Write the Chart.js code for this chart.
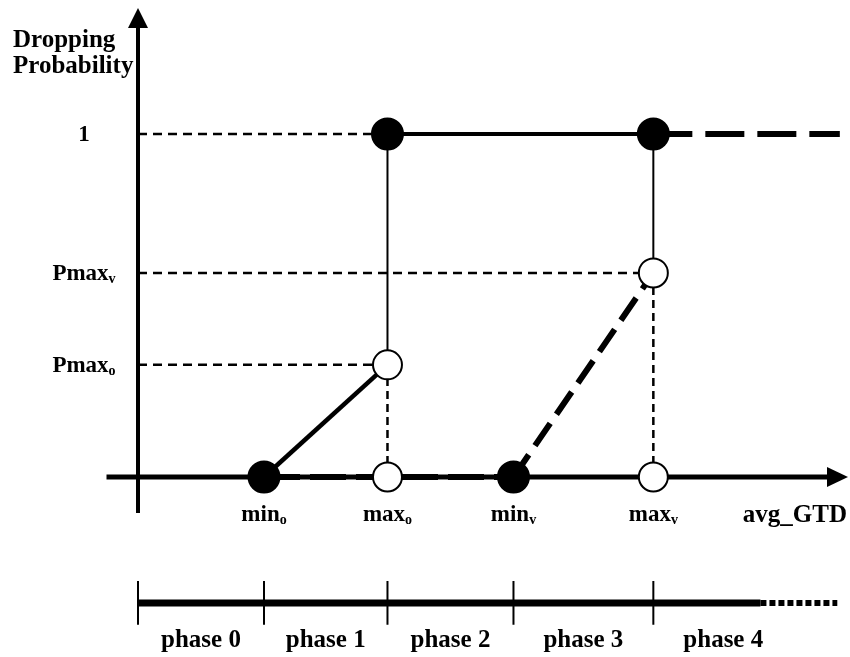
<!DOCTYPE html>
<html><head><meta charset="utf-8">
<script src="https://cdn.jsdelivr.net/npm/chart.js@4.4.0/dist/chart.umd.min.js"></script>
<style>html,body{margin:0;padding:0;background:#fff}#wrap{width:850px;height:657px;position:relative}</style>
</head><body><div id="wrap"><canvas id="c" width="850" height="657"></canvas></div>
<script>
// ---------- data ----------
const thresholdLabels = [['min','o'],['max','o'],['min','v'],['max','v']];
const thresholdX      = [1.00, 1.98, 2.98, 4.09];      // min_o, max_o, min_v, max_v (avg_GTD units)
const probLabels      = [['1',''],['Pmax','v'],['Pmax','o']];
const probLevels      = [1, 0.595, 0.327];              // 1, Pmax_v, Pmax_o
const phaseLabels     = ['phase 0','phase 1','phase 2','phase 3','phase 4'];
const xAxisTitle      = 'avg_GTD';
const yAxisTitle      = ['Dropping','Probability'];
const tailEndX        = 5.57;                            // dashed continuation of p = 1
const phaseSolidEnd   = 4.94;
const phaseDottedEnd  = 5.55;

// ---------- derived ----------
const [minO, maxO, minV, maxV] = thresholdX;
const [P1, PmaxV, PmaxO] = probLevels;
const phaseBounds = [0, minO, maxO, minV, maxV];
const PHASE_Y = -0.367, PHASE_TICK = 0.064;
const FONT = '"Liberation Serif","Times New Roman",serif';

function seg(pts, style, order) {
  return Object.assign({
    type: 'scatter', data: pts.map(([x, y]) => ({x, y})), showLine: true,
    pointRadius: 0, pointHoverRadius: 0, fill: false, borderColor: '#000',
    backgroundColor: '#000', clip: false, order: order, tension: 0, borderCapStyle: 'butt'
  }, style);
}
const thinDash = {borderWidth: 2.5, borderDash: [9, 6]};
const vDash = {borderWidth: 2.5, borderDash: [8, 5]};

const datasets = [
  // points on top
  {type:'scatter', data:[{x:minO,y:0},{x:minV,y:0},{x:maxO,y:P1},{x:maxV,y:P1}], pointRadius:15.5,
   pointHoverRadius:15.5, pointBackgroundColor:'#000', pointBorderColor:'#000', pointBorderWidth:2, showLine:false, clip:false, order:0},
  {type:'scatter', data:[{x:maxO,y:0},{x:maxO,y:PmaxO},{x:maxV,y:0},{x:maxV,y:PmaxV}], pointRadius:14.5,
   pointHoverRadius:14.5, pointBackgroundColor:'#fff', pointBorderColor:'#000', pointBorderWidth:2, showLine:false, clip:false, order:0},
  // curves
  seg([[minO,0],[maxO,PmaxO]], {borderWidth:4.5}, 1),
  seg([[minV,0],[maxV,PmaxV]], {borderWidth:6, borderDash:[27,11]}, 1),
  seg([[maxO,P1],[maxV,P1]], {borderWidth:4}, 1),
  seg([[maxV,P1],[tailEndX,P1]], {borderWidth:6, borderDash:[39,13]}, 1),
  seg([[minO,0],[minV,0]], {borderWidth:6, borderDash:[36,10]}, 1),
  seg([[maxO,PmaxO],[maxO,P1]], {borderWidth:2}, 1),
  seg([[maxV,PmaxV],[maxV,P1]], {borderWidth:2}, 1),
  seg([[maxO,0],[maxO,PmaxO]], vDash, 2),
  seg([[maxV,0],[maxV,PmaxV]], vDash, 2),
  // guides from y axis
  seg([[0,P1],[maxO,P1]], thinDash, 2),
  seg([[0,PmaxV],[maxV,PmaxV]], thinDash, 2),
  seg([[0,PmaxO],[maxO,PmaxO]], thinDash, 2),
  // phase bar
  seg([[0,PHASE_Y],[phaseSolidEnd,PHASE_Y]], {borderWidth:7}, 3),
  seg([[phaseSolidEnd,PHASE_Y],[phaseDottedEnd,PHASE_Y]], {borderWidth:6, borderDash:[6,3]}, 3),
  ...phaseBounds.map(b => seg([[b,PHASE_Y+PHASE_TICK],[b,PHASE_Y-PHASE_TICK]], {borderWidth:2}, 3))
];

function subText(ctx, main, sub, x, y, align, size, subSize) {
  ctx.font = 'bold ' + size + 'px ' + FONT;
  const wm = ctx.measureText(main).width;
  ctx.font = 'bold ' + subSize + 'px ' + FONT;
  const ws = sub ? ctx.measureText(sub).width : 0;
  let x0 = x;
  if (align === 'center') x0 = x - (wm + ws) / 2;
  else if (align === 'right') x0 = x - wm - ws;
  ctx.textAlign = 'left'; ctx.textBaseline = 'alphabetic';
  ctx.font = 'bold ' + size + 'px ' + FONT;
  ctx.fillText(main, x0, y);
  if (sub) { ctx.font = 'bold ' + subSize + 'px ' + FONT; ctx.fillText(sub, x0 + wm, y + 3); }
}

const axesPlugin = {
  id: 'axes',
  beforeDatasetsDraw(chart) {
    const ctx = chart.ctx, xs = chart.scales.x, ys = chart.scales.y;
    const ox = xs.getPixelForValue(0), oy = ys.getPixelForValue(0);
    const xL = xs.getPixelForValue(-0.25), xTip = 848;
    const yB = ys.getPixelForValue(-0.105), yTip = 8;
    ctx.save();
    ctx.fillStyle = '#000'; ctx.strokeStyle = '#000';
    ctx.lineWidth = 5;
    ctx.beginPath(); ctx.moveTo(xL, oy); ctx.lineTo(xTip - 16, oy); ctx.stroke();
    ctx.beginPath(); ctx.moveTo(xTip - 21, oy - 10); ctx.lineTo(xTip, oy); ctx.lineTo(xTip - 21, oy + 10); ctx.closePath(); ctx.fill();
    ctx.lineWidth = 4;
    ctx.beginPath(); ctx.moveTo(ox, yB); ctx.lineTo(ox, yTip + 16); ctx.stroke();
    ctx.beginPath(); ctx.moveTo(ox - 10, yTip + 20); ctx.lineTo(ox, yTip); ctx.lineTo(ox + 10, yTip + 20); ctx.closePath(); ctx.fill();
    ctx.restore();
  },
  afterDraw(chart) {
    const ctx = chart.ctx, xs = chart.scales.x, ys = chart.scales.y;
    const ox = xs.getPixelForValue(0), oy = ys.getPixelForValue(0);
    ctx.save();
    ctx.fillStyle = '#000';
    // y title
    ctx.font = 'bold 25px ' + FONT; ctx.textAlign = 'left'; ctx.textBaseline = 'alphabetic';
    ctx.fillText(yAxisTitle[0], 13, 47);
    ctx.fillText(yAxisTitle[1], 13, 73);
    // probability labels
    probLabels.forEach((l, i) => subText(ctx, l[0], l[1], ox - 54, ys.getPixelForValue(probLevels[i]) + 7, 'center', 23, 14));
    // threshold labels
    thresholdLabels.forEach((l, i) => subText(ctx, l[0], l[1], xs.getPixelForValue(thresholdX[i]), oy + 44, 'center', 23, 14));
    // x title
    subText(ctx, xAxisTitle, '', 847, oy + 45, 'right', 25, 14);
    // phase labels
    const bounds = phaseBounds.concat([maxV + (maxV - minV)]);
    const py = ys.getPixelForValue(PHASE_Y) + 44;
    phaseLabels.forEach((t, i) => {
      const cx = (xs.getPixelForValue(bounds[i]) + xs.getPixelForValue(bounds[i + 1])) / 2;
      subText(ctx, t, '', cx, py, 'center', 25, 14);
    });
    ctx.restore();
  }
};

new Chart(document.getElementById('c'), {
  type: 'scatter',
  data: { datasets },
  options: {
    responsive: false, animation: false, events: [],
    layout: { padding: { left: 138, right: 82, top: 134, bottom: 180 } },
    scales: {
      x: { type: 'linear', min: 0, max: 5, display: false },
      y: { type: 'linear', min: 0, max: 1, display: false }
    },
    plugins: { legend: { display: false }, tooltip: { enabled: false } }
  },
  plugins: [axesPlugin]
});
</script></body></html>
